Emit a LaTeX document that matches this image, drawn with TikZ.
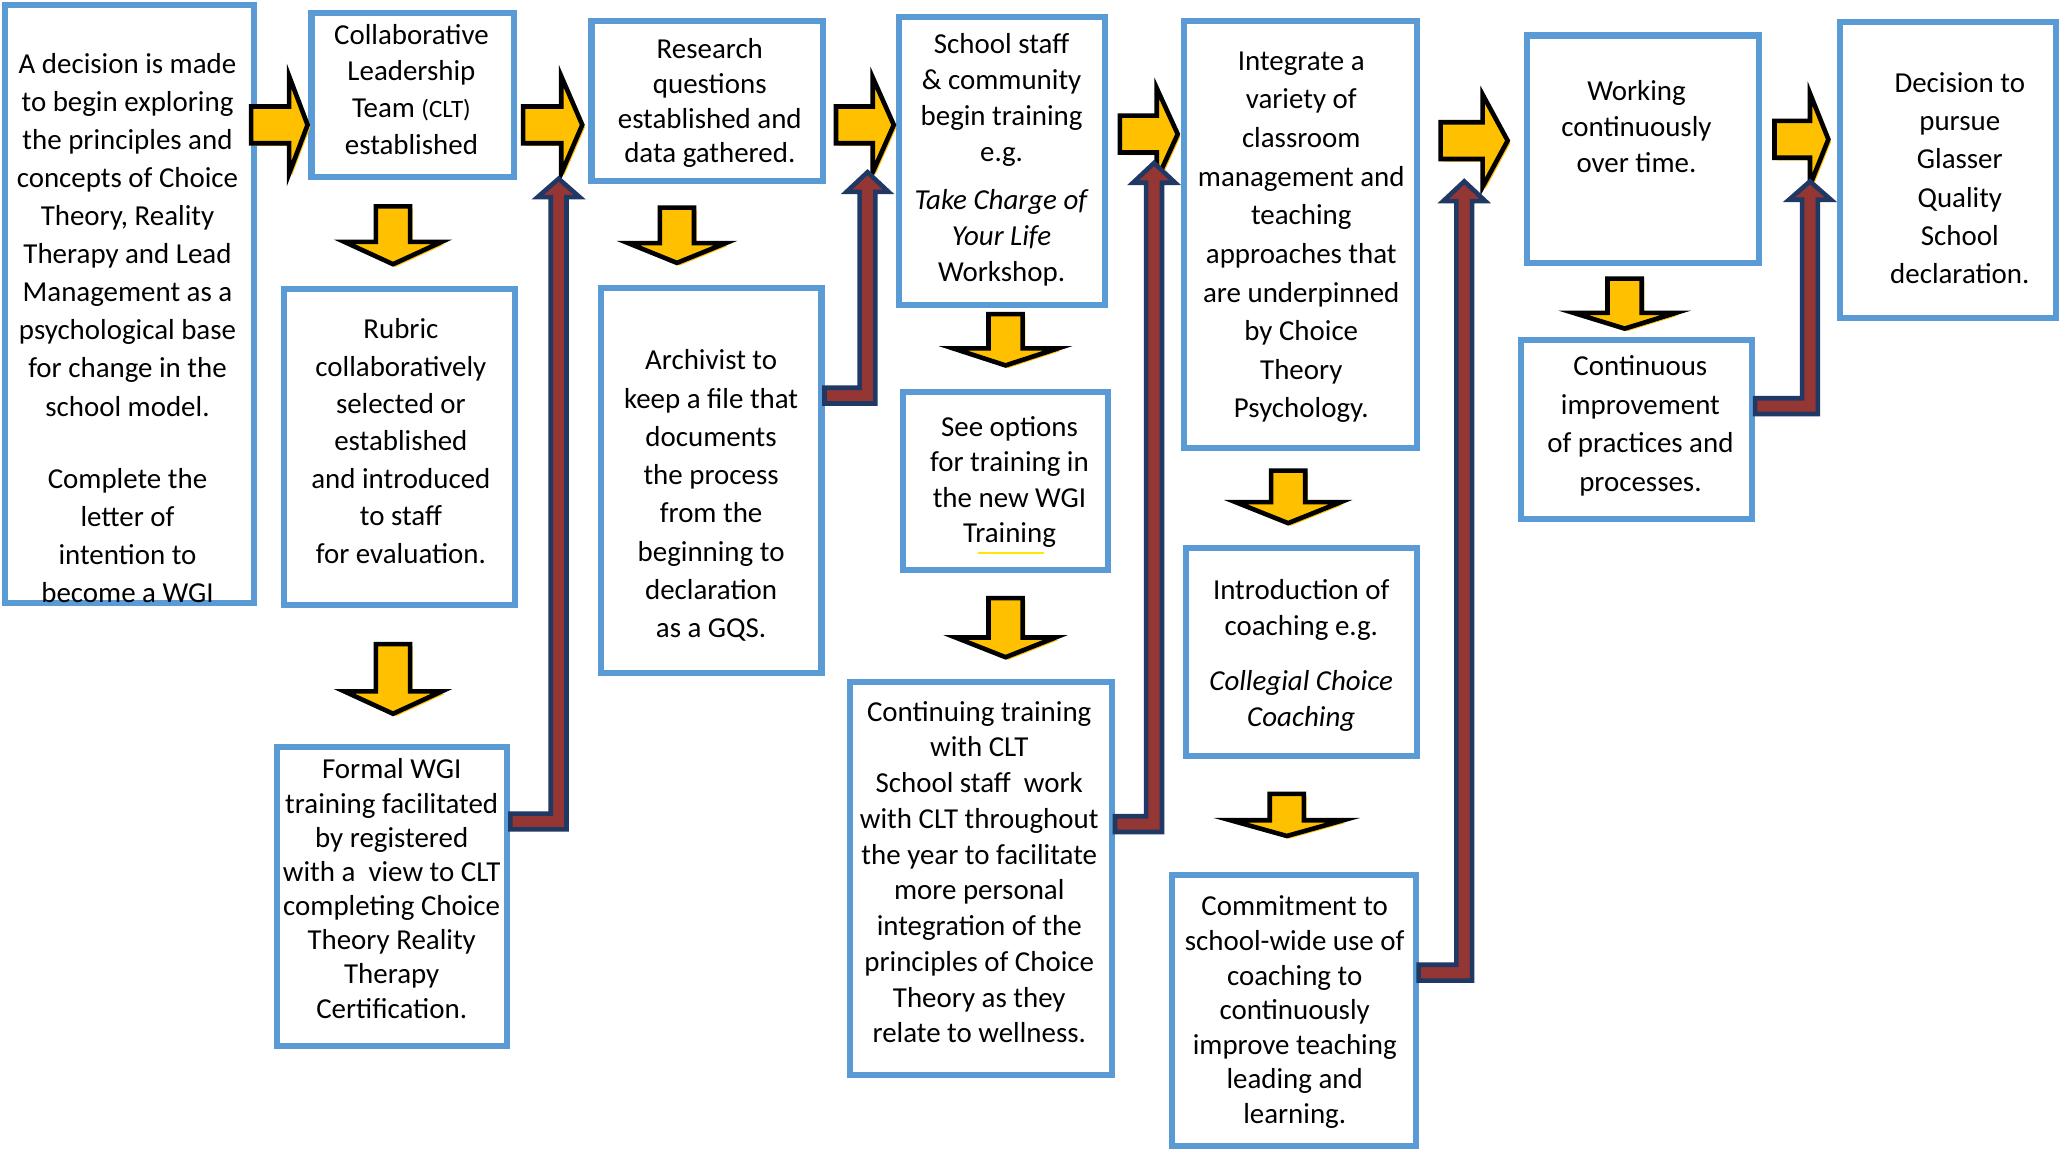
\documentclass[tikz,border=0pt]{standalone}
\usepackage{fontspec}
\setmainfont{Carlito}
\usetikzlibrary{calc}
\definecolor{bbord}{HTML}{5B9BD5}
\definecolor{yel}{HTML}{FFC000}
\definecolor{navy}{HTML}{1F3864}
\definecolor{dred}{HTML}{943634}
\tikzset{
  box/.style={draw=bbord, line width=4.6pt, fill=white, inner sep=0pt},
  txt/.style={align=center, inner sep=0pt, font=\fontsize{22}{#1}\selectfont},
  txt/.default=28,
  yarrow/.style={draw=black, fill=yel, line width=3.5pt, line join=miter},
  yshadow/.style={fill=yel},
  barrow/.style={draw=navy, fill=dred, line width=3.5pt, line join=miter}
}
% right block arrow: x0 xh xt yc shaft-half head-half
\newcommand{\rarr}[6]{%
  \fill[yshadow, shift={(2,2)}] (#1,#4-#5) -- (#2,#4-#5) -- (#2,#4-#6) -- (#3,#4) -- (#2,#4+#6) -- (#2,#4+#5) -- (#1,#4+#5) -- cycle;
  \draw[yarrow] (#1,#4-#5) -- (#2,#4-#5) -- (#2,#4-#6) -- (#3,#4) -- (#2,#4+#6) -- (#2,#4+#5) -- (#1,#4+#5) -- cycle;}
% down block arrow: xc y0 yh yt shaft-half head-half
\newcommand{\darr}[6]{%
  \fill[yshadow, shift={(2,2)}] (#1-#5,#2) -- (#1+#5,#2) -- (#1+#5,#3) -- (#1+#6,#3) -- (#1,#4) -- (#1-#6,#3) -- (#1-#5,#3) -- cycle;
  \draw[yarrow] (#1-#5,#2) -- (#1+#5,#2) -- (#1+#5,#3) -- (#1+#6,#3) -- (#1,#4) -- (#1-#6,#3) -- (#1-#5,#3) -- cycle;}
% bent up arrow: from-node y-bottom x-vertical y-tip y-headbase
\newcommand{\barr}[5]{%
  \draw[barrow] (#1.east |- 0,#2-6) -- (#3-6,#2-6) -- (#3-6,#5) -- (#3-16,#5) -- (#3,#4) -- (#3+16,#5) -- (#3+6,#5) -- (#3+6,#2+6) -- (#1.east |- 0,#2+6) -- cycle;}
\begin{document}
\begin{tikzpicture}[x=1pt, y=-1pt]
\useasboundingbox (0,0) rectangle (1568,876);
\fill[white] (0,0) rectangle (1568,876);

% boxes
\node[box, minimum width=189, minimum height=455] (b1) at (98.5,231.5) {};
\node[box, minimum width=154, minimum height=125] (b2) at (314,72.5) {};
\node[box, minimum width=176, minimum height=240] (b3) at (304,340) {};
\node[box, minimum width=175, minimum height=228] (b4) at (298.5,682) {};
\node[box, minimum width=176, minimum height=122] (b5) at (538,77) {};
\node[box, minimum width=168, minimum height=293] (b6) at (541,365.5) {};
\node[box, minimum width=157, minimum height=219] (b7) at (762.5,122.5) {};
\node[box, minimum width=156, minimum height=136] (b8) at (765,366) {};
\node[box, minimum width=199, minimum height=299] (b9) at (746.5,668.5) {};
\node[box, minimum width=177, minimum height=325] (b10) at (989.5,178.5) {};
\node[box, minimum width=176, minimum height=158] (b11) at (990,496) {};
\node[box, minimum width=185, minimum height=206] (b12) at (984.5,769) {};
\node[box, minimum width=176, minimum height=173] (b13) at (1250,113.5) {};
\node[box, minimum width=176, minimum height=136] (b14) at (1245,327) {};
\node[box, minimum width=164, minimum height=225] (b15) at (1482,129.5) {};

% right arrows
\rarr{191}{220}{234}{95}{14}{37}
\rarr{398}{427}{443}{95}{14}{37}
\rarr{636}{664}{680}{95}{14}{36}
\rarr{852}{880}{896}{102}{14}{35}
\rarr{1096}{1128}{1147}{107}{14}{35}
\rarr{1350}{1377}{1391}{106}{14}{35}

% down arrows
\darr{299}{157}{184}{201}{13}{37}
\darr{299}{490}{526}{543}{13}{37}
\darr{515}{158}{185}{200}{13}{37}
\darr{765}{239}{265}{278}{13}{40}
\darr{765}{455}{485}{500}{13}{38}
\darr{980}{358}{382}{398}{13}{40}
\darr{979}{604}{624}{636}{13}{43}
\darr{1236}{212}{238}{250}{13}{39}

% bent up arrows
\barr{b4}{625}{425}{136}{150}
\barr{b6}{301}{660}{131}{146}
\barr{b9}{627}{878}{124}{139}
\barr{b12}{740}{1114}{138}{153}
\barr{b14}{309}{1377}{138}{152}

% texts
\node[txt=29] (t1) at (97,249.5) {A decision is made\\to begin exploring\\the principles and\\concepts of Choice\\Theory, Reality\\Therapy and Lead\\Management as a\\psychological base\\for change in the\\school model.\\[26pt]Complete the\\letter of\\intention to\\become a WGI};
\node[txt=28] (t2) at (313,68) {Collaborative\\Leadership\\Team {\fontsize{19}{28}\selectfont(CLT)}\\established};
\node[txt=28.5] (t3) at (305,335.5) {Rubric\\collaboratively\\selected or\\established\\and introduced\\to staff\\for evaluation.};
\node[txt=26] (t4) at (298,676) {Formal WGI\\training facilitated\\by registered\\with a\ \ view to CLT\\completing Choice\\Theory Reality\\Therapy\\Certification.};
\node[txt=26.5] (t5) at (540,78.5) {Research\\questions\\established and\\data gathered.};
\node[txt=29.1] (t6) at (541,377) {Archivist to\\keep a file that\\documents\\the process\\from the\\beginning to\\declaration\\as a GQS.};
\node[txt=27.3] (t7) at (762,121.5) {School staff\\\& community\\begin training\\e.g.\\[9.5pt]\textit{Take Charge of}\\\textit{Your Life}\\Workshop.};
\node[txt=27] (t8) at (768,366.5) {See options\\for training in\\the new WGI\\Training};
\draw[yellow!90!orange, line width=1pt] ($(t8.south)+(-24,4)$) -- ($(t8.south)+(26,4)$);
\node[txt=27.2] (t9) at (745,663.5) {Continuing training\\with CLT\\School staff\ \ work\\with CLT throughout\\the year to facilitate\\more personal\\integration of the\\principles of Choice\\Theory as they\\relate to wellness.};
\node[txt=29.4] (t10) at (990,180.5) {Integrate a\\variety of\\classroom\\management and\\teaching\\approaches that\\are underpinned\\by Choice\\Theory\\Psychology.};
\node[txt=27.5] (t11) at (990,498.5) {Introduction of\\coaching e.g.\\[14.5pt]\textit{Collegial Choice}\\\textit{Coaching}};
\node[txt=26.3] (t12) at (985,770) {Commitment to\\school-wide use of\\coaching to\\continuously\\improve teaching\\leading and\\learning.};
\node[txt=27.5] (t13) at (1245,96.5) {Working\\continuously\\over time.};
\node[txt=29.3] (t14) at (1248,324) {Continuous\\improvement\\of practices and\\processes.};
\node[txt=29] (t15) at (1491,135.5) {Decision to\\pursue\\Glasser\\Quality\\School\\declaration.};
\end{tikzpicture}
\end{document}
